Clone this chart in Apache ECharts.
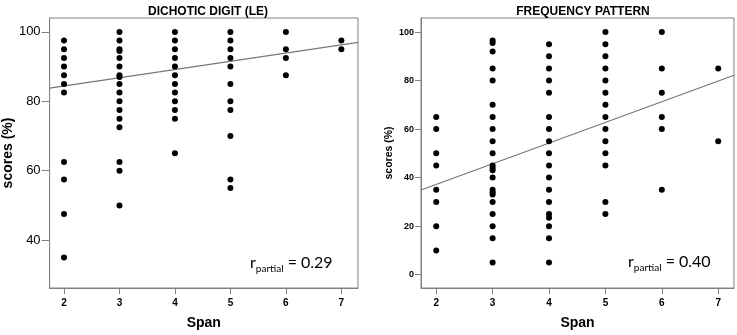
<!DOCTYPE html>
<html>
<head>
<meta charset="utf-8">
<script src="https://cdn.jsdelivr.net/npm/echarts@6/dist/echarts.min.js"></script>
<style>html,body{margin:0;padding:0;background:#fff;}#c{width:737px;height:335px;}</style>
</head>
<body>
<div id="c"></div>
<script>
// ---- Data ----
const titles = ['DICHOTIC DIGIT (LE)', 'FREQUENCY PATTERN'];
const xTicks = [2, 3, 4, 5, 6, 7];
const leftYTicks = [40, 60, 80, 100];
const rightYTicks = [0, 20, 40, 60, 80, 100];
const rPartial = ['0.29', '0.40'];

// Dichotic digit (LE): span -> scores
const ddSpan2 = [97.5, 95, 92.5, 90, 87.5, 85, 82.5, 62.5, 57.5, 47.5, 35];
const ddSpan3 = [100, 97.5, 95, 94.5, 92.5, 90, 87.5, 87, 85, 82.5, 80, 77.5, 75, 72.5, 62.5, 60, 50];
const ddSpan4 = [100, 97.5, 95, 92.5, 90, 87.5, 85, 82.5, 80, 77.5, 75, 65];
const ddSpan5 = [100, 97.5, 95, 92.5, 90, 85, 80, 77.5, 70, 57.5, 55];
const ddSpan6 = [100, 95, 92.5, 87.5];
const ddSpan7 = [97.5, 95];
const ddFit = [[1.74, 83.8], [7.3, 97.0]];

// Frequency pattern: span -> scores
const fpSpan2 = [65, 60, 50, 45, 35, 30, 20, 10];
const fpSpan3 = [96.5, 95.5, 92, 85, 80, 70, 65, 60, 55, 50, 45, 44, 43, 40, 35, 34, 33, 30, 25, 20, 15, 5];
const fpSpan4 = [95, 90, 85, 80, 75, 65, 60, 55, 50, 45, 40, 35, 30, 25, 23.5, 20, 15, 5];
const fpSpan5 = [100, 95, 90, 85, 80, 75, 70, 65, 60, 55, 50, 45, 30, 25];
const fpSpan6 = [100, 85, 75, 65, 60, 35];
const fpSpan7 = [85, 55];
const fpFit = [[1.73, 34.9], [7.28, 82.2]];

function pts(groups) {
  const out = [];
  groups.forEach((vals, i) => vals.forEach(v => out.push([xTicks[i], v])));
  return out;
}
const ddPoints = pts([ddSpan2, ddSpan3, ddSpan4, ddSpan5, ddSpan6, ddSpan7]);
const fpPoints = pts([fpSpan2, fpSpan3, fpSpan4, fpSpan5, fpSpan6, fpSpan7]);

const frame = '#808080';
const chart = echarts.init(document.getElementById('c'), null, {renderer: 'canvas'});

function xAx(idx, min, max) {
  return {
    type: 'value', gridIndex: idx, min: min, max: max,
    name: 'Span', nameLocation: 'middle', nameGap: 28,
    nameTextStyle: {fontFamily: 'Liberation Sans', fontWeight: 'bold', fontSize: 14, color: '#000'},
    axisLine: {show: true, onZero: false, lineStyle: {color: frame}},
    splitLine: {show: false},
    axisTick: {show: true, length: 6, lineStyle: {color: frame}, customValues: xTicks},
    axisLabel: {fontFamily: 'Liberation Sans', fontWeight: 'bold', fontSize: 10, color: '#000', margin: 10, customValues: xTicks}
  };
}
function yAx(idx, min, max, ticks, labelSize, labelWeight, nameSize, nameGap, tickLen) {
  return {
    type: 'value', gridIndex: idx, min: min, max: max,
    name: 'scores (%)', nameLocation: 'middle', nameGap: nameGap, nameRotate: 90,
    nameTextStyle: {fontFamily: 'Liberation Sans', fontWeight: 'bold', fontSize: nameSize, color: '#000'},
    axisLine: {show: true, onZero: false, lineStyle: {color: frame}},
    splitLine: {show: false},
    axisTick: {show: true, length: tickLen, lineStyle: {color: frame}, customValues: ticks},
    axisLabel: {fontFamily: 'Liberation Sans', fontWeight: labelWeight, fontSize: labelSize, color: '#000', margin: tickLen + 1, customValues: ticks}
  };
}

const annStyle = {
  r: {fontFamily: 'Lato', fontSize: 16, color: '#000', verticalAlign: 'bottom'},
  sub: {fontFamily: 'Lato', fontSize: 10, color: '#000', verticalAlign: 'bottom', padding: [0, 0, -3, 0]},
  eq: {fontFamily: 'Lato', fontSize: 16, color: '#000', verticalAlign: 'bottom'}
};

chart.setOption({
  animation: false,
  backgroundColor: '#fff',
  title: [
    {text: titles[0], left: 203, top: 1, textAlign: 'center',
     textStyle: {fontFamily: 'Liberation Sans', fontWeight: 'bold', fontSize: 12, color: '#000'}},
    {text: titles[1], left: 578, top: 1, textAlign: 'center',
     textStyle: {fontFamily: 'Liberation Sans', fontWeight: 'bold', fontSize: 12, color: '#000'}}
  ],
  grid: [
    {left: 48, top: 18, width: 310, height: 274, show: true, borderColor: frame, borderWidth: 1, backgroundColor: 'transparent'},
    {left: 421, top: 18, width: 313, height: 274, show: true, borderColor: frame, borderWidth: 1, backgroundColor: 'transparent'}
  ],
  xAxis: [xAx(0, 1.74, 7.3), xAx(1, 1.73, 7.28)],
  yAxis: [
    yAx(0, 26.2, 104, leftYTicks, 13, 'normal', 14, 31, 8),
    yAx(1, -5.5, 105.8, rightYTicks, 9, 'bold', 10.5, 24, 6)
  ],
  graphic: [
    {type: 'text', left: 250, top: 255, style: {
      text: '{r|r}{sub|partial}{eq| = ' + rPartial[0] + '}', rich: annStyle}},
    {type: 'text', left: 628, top: 254, style: {
      text: '{r|r}{sub|partial}{eq| = ' + rPartial[1] + '}', rich: annStyle}}
  ],
  series: [
    {type: 'line', xAxisIndex: 0, yAxisIndex: 0, data: ddFit, showSymbol: false, silent: true,
     lineStyle: {color: '#777', width: 1.2}, z: 1},
    {type: 'scatter', xAxisIndex: 0, yAxisIndex: 0, data: ddPoints, symbol: 'circle', symbolSize: 6,
     itemStyle: {color: '#000', opacity: 1}, z: 2},
    {type: 'line', xAxisIndex: 1, yAxisIndex: 1, data: fpFit, showSymbol: false, silent: true,
     lineStyle: {color: '#777', width: 1.2}, z: 1},
    {type: 'scatter', xAxisIndex: 1, yAxisIndex: 1, data: fpPoints, symbol: 'circle', symbolSize: 6,
     itemStyle: {color: '#000', opacity: 1}, z: 2}
  ]
});
</script>
</body>
</html>
